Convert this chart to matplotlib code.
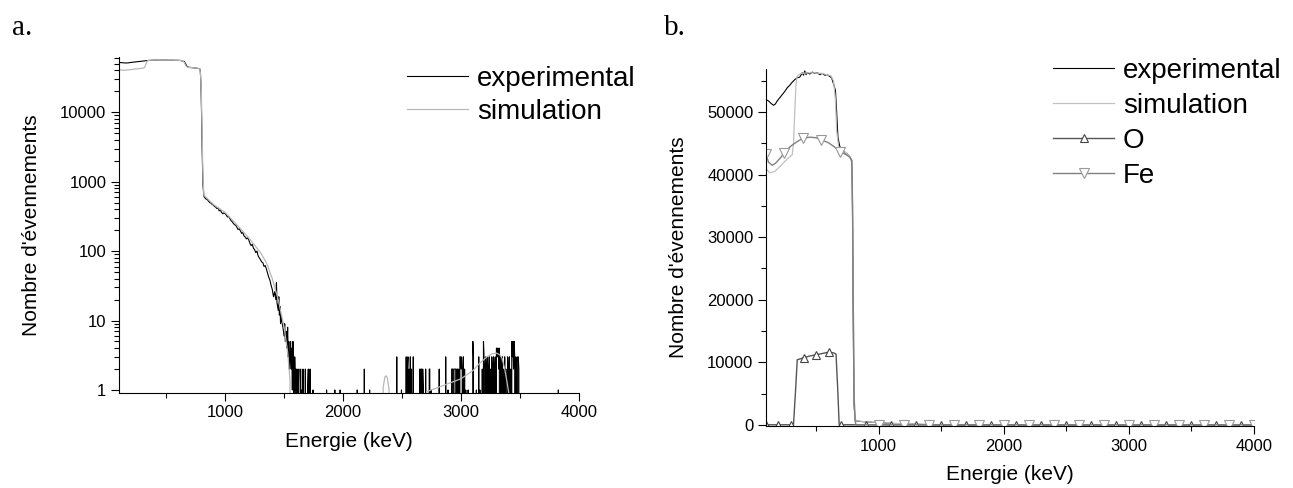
import numpy as np
import matplotlib.pyplot as plt
import matplotlib.ticker as mticker

plt.rcParams['font.family'] = ['Liberation Sans', 'DejaVu Sans']

# Experimental spectrum, main part (keV, counts)
exp_energy = [100, 120, 140, 160, 175, 190, 210, 230, 250, 270, 290, 310, 330, 350, 370,
              390, 400, 410, 420, 430, 450, 470, 490, 510, 530, 550, 570, 590, 610, 625,
              640, 655, 665, 675, 690, 710, 730, 750, 770, 785, 790, 795, 800, 805, 812,
              820, 830, 840, 850, 860, 870, 880, 890, 900, 910, 920, 930, 940, 950, 960,
              970, 980, 990, 1000, 1010, 1020, 1030, 1040, 1050, 1060, 1070, 1080, 1090, 1100,
              1110, 1120, 1130, 1140, 1150, 1160, 1170, 1180, 1190, 1200, 1210, 1220, 1230,
              1240, 1250, 1260, 1270, 1280, 1290, 1300, 1310, 1320, 1330, 1340, 1350, 1360,
              1370, 1380, 1390, 1400, 1410, 1420, 1430, 1435, 1440, 1450, 1455, 1460, 1465,
              1470, 1475, 1480, 1490, 1500, 1505, 1510, 1520, 1525, 1530, 1535, 1540, 1545]
exp_counts = [52000, 51800, 51400, 51100, 51300, 51800, 52300, 52800, 53300, 53900, 54300,
              54800, 55200, 55500, 55600, 56300, 55900, 56600, 56000, 56300, 56100, 56400,
              56200, 56300, 56000, 56200, 55900, 56000, 55700, 55500, 54500, 53500, 50000,
              46000, 44500, 44000, 43600, 43300, 42800, 42300, 38000, 25000, 10000, 3000, 900,
              620, 580, 560, 550, 520, 500, 490, 470, 460, 440, 430, 410, 420, 380, 390,
              360, 345, 355, 350, 330, 310, 315, 295, 275, 265, 250, 240, 235, 220,
              205, 210, 195, 180, 185, 165, 160, 150, 155, 145, 130, 120, 125,
              110, 105, 95, 100, 85, 80, 75, 70, 68, 60, 62, 55, 48,
              42, 38, 32, 28, 22, 26, 20, 35, 18, 14, 22, 12, 16,
              9, 12, 10, 8, 6, 9, 5, 7, 4, 8, 3, 5, 2]

# Experimental tail: non-empty 5 keV channels (keV, counts)
tail_hit_energy = [1550, 1555, 1560, 1565, 1570, 1575, 1580, 1590, 1595, 1600, 1610, 1620,
                   1625, 1640, 1650, 1660, 1680, 1700, 1705, 1720, 1745, 1860, 1930, 1975,
                   2120, 2180, 2225, 2455, 2495, 2535, 2545, 2550, 2560, 2570, 2580, 2595,
                   2650, 2660, 2665, 2675, 2680, 2700, 2730, 2735, 2745, 2815, 2870, 2890,
                   2920, 2925, 2930, 2940, 2945, 2950, 2955, 2965, 2970, 2980, 2990, 2995,
                   3000, 3005, 3010, 3020, 3030, 3040, 3060, 3100, 3105, 3130, 3150, 3160,
                   3180, 3190, 3195, 3200, 3210, 3220, 3225, 3235, 3240, 3250, 3260, 3265,
                   3275, 3285, 3290, 3300, 3305, 3310, 3315, 3320, 3325, 3335, 3340, 3350,
                   3360, 3370, 3380, 3395, 3405, 3410, 3420, 3430, 3435, 3440, 3445, 3450,
                   3455, 3465, 3470, 3480, 3485, 3490, 3825]
tail_hit_counts = [3, 5, 2, 4, 1, 5, 2, 3, 1, 2, 2, 1,
                   2, 2, 1, 2, 2, 1, 2, 2, 1, 1, 1, 1,
                   1, 2, 1, 3, 1, 3, 2, 3, 2, 3, 2, 3,
                   2, 2, 2, 2, 1, 2, 2, 2, 1, 2, 3, 1,
                   2, 2, 2, 2, 2, 2, 2, 2, 2, 2, 3, 3,
                   2, 3, 2, 3, 2, 1, 1, 5, 3, 1, 3, 1,
                   2, 5, 3, 2, 3, 2, 3, 2, 3, 2, 3, 2,
                   3, 2, 3, 4, 4, 3, 4, 2, 4, 3, 2, 3,
                   2, 3, 2, 3, 2, 3, 2, 5, 3, 5, 2, 5,
                   3, 3, 2, 3, 3, 2, 1]

# Simulated spectrum (keV, counts)
sim_energy = [100, 130, 170, 220, 270, 310, 320, 330, 340, 350, 380, 450, 550, 620, 640,
              655, 665, 680, 700, 740, 770, 785, 792, 798, 805, 812, 820, 900, 1000, 1100,
              1200, 1300, 1350, 1400, 1450, 1500, 1530, 1550, 1560, 2320, 2340, 2355, 2365,
              2375, 2390, 2400, 2690, 2710, 2800, 2900, 3000, 3100, 3160, 3220, 3260, 3300,
              3330, 3350, 3370, 3390, 3405, 3420, 4000]
sim_counts = [41000, 40300, 40500, 41500, 42500, 43200, 45000, 50000, 54500, 55800, 56200,
              56300, 56200, 55800, 55000, 52000, 47000, 44500, 44000, 43500, 42800, 42000,
              35000, 20000, 5000, 1200, 640, 470, 360, 240, 155, 95, 68, 40, 20, 8, 3.5,
              1.4, 0, 0, 1.1, 1.55, 1.6, 1.5, 1.0, 0, 0, 0.95, 1.08, 1.25, 1.45, 1.9, 2.45,
              3.0, 3.3, 3.4, 3.2, 2.8, 2.0, 1.3, 0.9, 0, 0]

# Simulated O contribution
o_energy = [100, 200, 300, 320, 335, 350, 400, 450, 500, 550, 600, 640, 660, 675, 685, 700,
            800, 900, 1100, 1300, 1500, 1700, 1900, 2100, 2300, 2500, 2700, 2900, 3100,
            3300, 3500, 3700, 3900, 4000]
o_counts = [0, 0, 0, 0, 5000, 10400, 10700, 11000, 11200, 11400, 11600, 11500, 11300, 5000,
            0, 0, 0, 0, 0, 0, 0, 0, 0, 0, 0, 0, 0, 0, 0, 0, 0, 0, 0, 0]
o_marks = [100, 200, 300, 400, 500, 600, 700, 900, 1100, 1300, 1500, 1700, 1900, 2100,
           2300, 2500, 2700, 2900, 3100, 3300, 3500, 3700, 3900]

# Simulated Fe contribution
fe_energy = [100, 120, 150, 180, 220, 245, 300, 350, 395, 450, 500, 540, 600, 650, 690,
             740, 770, 785, 792, 798, 805, 812, 820, 1000, 1200, 1400, 1600, 1800, 2000,
             2200, 2400, 2600, 2800, 3000, 3200, 3400, 3600, 3800, 4000]
fe_counts = [43300, 42000, 41500, 41900, 42800, 43500, 44600, 45300, 45800, 46000, 45900,
             45600, 45100, 44400, 43700, 43200, 42800, 42300, 35000, 18000, 4000, 600, 0,
             0, 0, 0, 0, 0, 0, 0, 0, 0, 0, 0, 0, 0, 0, 0, 0]
fe_marks = [100, 245, 395, 540, 690, 1000, 1200, 1400, 1600, 1800, 2000, 2200, 2400, 2600,
            2800, 3000, 3200, 3400, 3600, 3800, 4000]

# full experimental channel array
tail_energy = np.arange(1550, 4001, 5)
tail_counts = np.zeros(len(tail_energy))
for e, c in zip(tail_hit_energy, tail_hit_counts):
    tail_counts[(e - 1550) // 5] = c
exp_e = np.concatenate([exp_energy, tail_energy])
exp_c = np.concatenate([exp_counts, tail_counts])

fig = plt.figure(figsize=(12.93, 4.88), dpi=100)
ax1 = fig.add_axes([0.0920, 0.1947, 0.3558, 0.6885])
ax2 = fig.add_axes([0.5924, 0.1270, 0.3774, 0.7316])

# a. log scale
ax1.plot(exp_e, exp_c, color='black', lw=0.8, label='experimental')
ax1.plot(sim_energy, sim_counts, color='#b8b8b8', lw=0.9, label='simulation')
ax1.set_yscale('log', nonpositive='clip')
ax1.set_xlim(100, 4000)
ax1.set_ylim(0.905, 62400)
ax1.yaxis.set_major_formatter(mticker.FuncFormatter(lambda v, p: f'{v:g}'))
ax1.yaxis.set_minor_formatter(mticker.NullFormatter())
ax1.legend(loc='upper left', bbox_to_anchor=(0.3148, 0.865), bbox_transform=fig.transFigure,
           frameon=False, fontsize=20, handlelength=2.2, handletextpad=0.32,
           labelspacing=0.25, borderpad=0, borderaxespad=0)

# b. linear scale
ax2.plot(exp_e, exp_c, color='black', lw=0.8, label='experimental')
ax2.plot(sim_energy, sim_counts, color='#c0c0c0', lw=0.9, label='simulation')
ax2.plot(o_energy, o_counts, color='#555555', lw=1.0, marker='^', ms=6, mfc='white',
         mec='#444444', mew=0.8, markevery=[o_energy.index(m) for m in o_marks], label='O')
ax2.plot(fe_energy, fe_counts, color='#808080', lw=1.0, marker='v', ms=7, mfc='white',
         mec='#999999', mew=0.8, markevery=[fe_energy.index(m) for m in fe_marks], label='Fe')
ax2.set_xlim(100, 4000)
ax2.set_ylim(-200, 56900)
ax2.yaxis.set_major_locator(mticker.MultipleLocator(10000))
ax2.yaxis.set_minor_locator(mticker.MultipleLocator(5000))
ax2.legend(loc='upper left', bbox_to_anchor=(0.8144, 0.881), bbox_transform=fig.transFigure,
           frameon=False, fontsize=20, handlelength=2.2, handletextpad=0.32,
           labelspacing=0.32, borderpad=0, borderaxespad=0)

for ax in (ax1, ax2):
    ax.spines['top'].set_visible(False)
    ax.spines['right'].set_visible(False)
    ax.xaxis.set_major_locator(mticker.MultipleLocator(1000))
    ax.xaxis.set_minor_locator(mticker.MultipleLocator(500))
    ax.tick_params(which='major', direction='out', length=6, width=0.8, labelsize=12, pad=3)
    ax.tick_params(which='minor', direction='out', length=3.5, width=0.8)
    ax.set_xlabel('Energie (keV)', fontsize=15, labelpad=8)
    ax.set_ylabel("Nombre d'évennements", fontsize=15, labelpad=14)

fig.text(12 / 1293, 1 - 35 / 488, 'a.', fontsize=21, family='Liberation Serif', va='baseline')
fig.text(664 / 1293, 1 - 35 / 488, 'b.', fontsize=21, family='Liberation Serif', va='baseline')

fig.savefig('out.png', dpi=100)
